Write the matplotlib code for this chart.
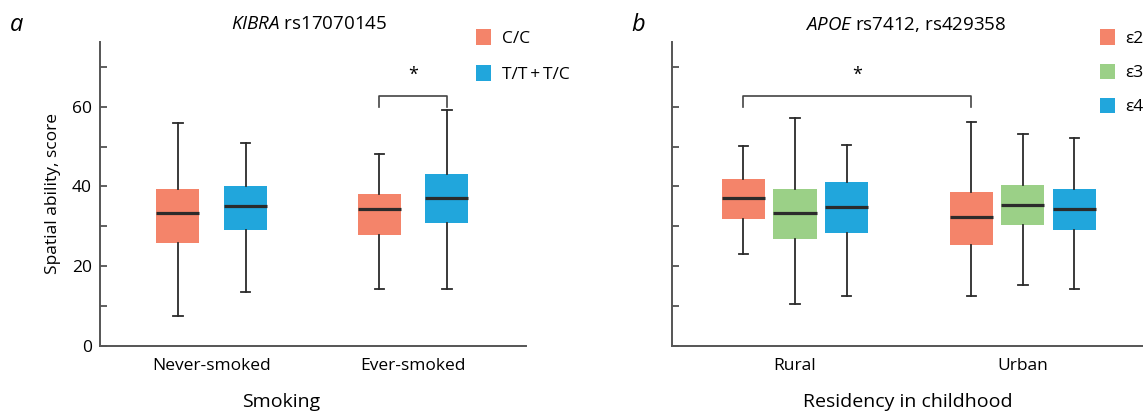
import matplotlib
matplotlib.use("Agg")
import matplotlib.pyplot as plt
from matplotlib.patches import Patch

plt.rcParams['font.family'] = ['Open Sans', 'DejaVu Sans']
plt.rcParams['mathtext.fontset'] = 'custom'
plt.rcParams['mathtext.rm'] = 'Open Sans'
plt.rcParams['mathtext.it'] = 'Open Sans:italic'

#colours
c_orange = '#F4846A'
c_green = '#9BD087'
c_blue = '#21A6DC'
c_dark = '#2b2b2b'

#panel a data: KIBRA rs17070145 by smoking
groups_a = ['Never-smoked', 'Ever-smoked']
genos_a = ['C/C', 'T/T\u2009+\u2009T/C']
# rows = genotype, cols = group
a_low = [[7.4, 14.3], [13.4, 14.3]]
a_q1 = [[25.9, 27.9], [29.0, 30.9]]
a_med = [[33.3, 34.3], [35.2, 37.1]]
a_q3 = [[39.4, 38.1], [40.1, 43.1]]
a_high = [[55.9, 48.1], [51.0, 59.3]]

#panel b data: APOE by residency in childhood
groups_b = ['Rural', 'Urban']
genos_b = ['ε2', 'ε3', 'ε4']
b_low = [[23.1, 12.4], [10.5, 15.3], [12.4, 14.3]]
b_q1 = [[31.7, 25.4], [26.9, 30.2], [28.4, 29.1]]
b_med = [[37.2, 32.3], [33.3, 35.3], [34.8, 34.3]]
b_q3 = [[41.9, 38.6], [39.4, 40.4], [41.1, 39.4]]
b_high = [[50.1, 56.1], [57.1, 53.1], [50.3, 52.2]]

yticks = [0, 10, 20, 30, 40, 50, 60, 70]
yticklabels = ['0', '', '20', '', '40', '', '60', '']

W, H = 1143, 411
fig = plt.figure(figsize=(W / 100, H / 100), dpi=100)
ax_a = fig.add_axes([100 / W, 65.3 / H, 426.4 / W, 303.7 / H])
ax_b = fig.add_axes([671.7 / W, 65.3 / H, 471.3 / W, 303.7 / H])


def draw_boxes(ax, low, q1, med, q3, high, colors, offsets, width, capw):
    for g in range(len(low)):
        stats = []
        for i in range(len(low[g])):
            stats.append(dict(whislo=low[g][i], q1=q1[g][i], med=med[g][i],
                              q3=q3[g][i], whishi=high[g][i], fliers=[]))
        pos = [i + offsets[g] for i in range(len(low[g]))]
        ax.bxp(stats, positions=pos, widths=width, patch_artist=True,
               showfliers=False, capwidths=capw,
               boxprops=dict(facecolor=colors[g], edgecolor='none', linewidth=0),
               medianprops=dict(color=c_dark, linewidth=2.3, solid_capstyle='butt'),
               whiskerprops=dict(color=c_dark, linewidth=1.3),
               capprops=dict(color=c_dark, linewidth=1.3),
               zorder=2)


def style_axes(ax, groups, labelled):
    ax.set_ylim(0, 76.25)
    ax.set_yticks(yticks)
    if labelled:
        ax.set_yticklabels(yticklabels)
    else:
        ax.set_yticklabels([])
    ax.set_xticks(range(len(groups)))
    ax.set_xticklabels(groups)
    ax.tick_params(axis='y', direction='in', length=5, width=1.2, color='#444', labelsize=12.5, pad=6)
    ax.tick_params(axis='x', length=0, labelsize=12.5, pad=9)
    for s in ['top', 'right']:
        ax.spines[s].set_visible(False)
    for s in ['left', 'bottom']:
        ax.spines[s].set_color('#555')
        ax.spines[s].set_linewidth(1.4)


def bracket(ax, x1, x2, y0, y1, ystar):
    ax.plot([x1, x1, x2, x2], [y0, y1, y1, y0], color='#444', linewidth=1.2, clip_on=False)
    ax.text((x1 + x2) / 2, ystar, '*', ha='center', va='center', fontsize=13)


#panel a
draw_boxes(ax_a, a_low, a_q1, a_med, a_q3, a_high, [c_orange, c_blue],
           [-0.168, 0.168], 0.213, 0.046)
ax_a.set_xlim(-0.555, 1.563)
style_axes(ax_a, groups_a, True)
ax_a.set_ylabel('Spatial ability, score', fontsize=12.5, labelpad=8)
ax_a.set_xlabel('Smoking', fontsize=14)
ax_a.xaxis.set_label_coords(0.424, -0.155)
bracket(ax_a, 1 - 0.168, 1 + 0.168, 60, 62.7, 68)
ax_a.legend([Patch(facecolor=c_orange), Patch(facecolor=c_blue)], genos_a,
            loc='upper left', bbox_to_anchor=(476 / W, 1 - 29.3 / H),
            bbox_transform=fig.transFigure, frameon=False, fontsize=12.5,
            handlelength=0.85, handleheight=1.0, handletextpad=0.65,
            labelspacing=1.05, borderpad=0, borderaxespad=0)

#panel b
draw_boxes(ax_b, b_low, b_q1, b_med, b_q3, b_high, [c_orange, c_green, c_blue],
           [-0.226, 0.0, 0.226], 0.189, 0.041)
ax_b.set_xlim(-0.541, 1.527)
style_axes(ax_b, groups_b, False)
ax_b.set_xlabel('Residency in childhood', fontsize=14)
ax_b.xaxis.set_label_coords(0.5, -0.155)
bracket(ax_b, -0.226, 1 - 0.226, 60, 62.7, 68)
ax_b.legend([Patch(facecolor=c_orange), Patch(facecolor=c_green), Patch(facecolor=c_blue)],
            genos_b, loc='upper left', bbox_to_anchor=(1100 / W, 1 - 29.3 / H),
            bbox_transform=fig.transFigure, frameon=False, fontsize=12.5,
            handlelength=0.85, handleheight=1.0, handletextpad=0.6,
            labelspacing=0.95, borderpad=0, borderaxespad=0)

#titles and panel letters
fig.text(309 / W, 1 - 24 / H, r'$\it{KIBRA}$ rs17070145', ha='center', va='center', fontsize=13.5)
fig.text(906 / W, 1 - 24 / H, r'$\it{APOE}$ rs7412, rs429358', ha='center', va='center', fontsize=13.5)
fig.text(17 / W, 1 - 25 / H, 'a', ha='center', va='center', fontsize=17, style='italic')
fig.text(638 / W, 1 - 25 / H, 'b', ha='center', va='center', fontsize=17, style='italic')

fig.savefig('out.png', dpi=100)
